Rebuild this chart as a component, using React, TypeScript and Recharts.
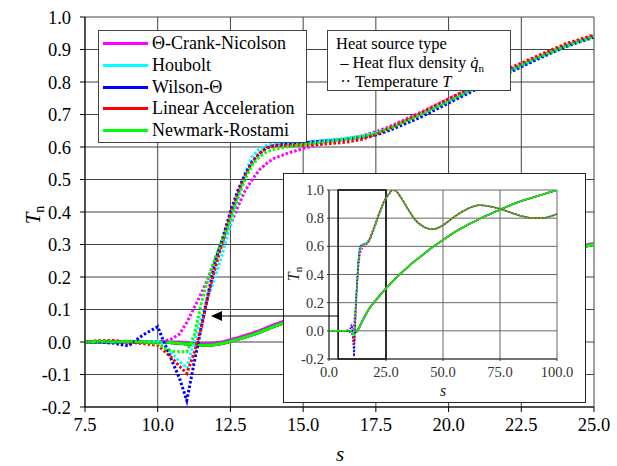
import React from 'react';
import { LineChart, Line, XAxis, YAxis, CartesianGrid, ReferenceArea } from 'recharts';

const FONT = 'Liberation Serif, DejaVu Serif, serif';

// s positions used by the zoomed main chart
const S = [7.5, 8, 8.5, 9, 9.5, 10, 10.25, 10.5, 10.75, 11, 11.25, 11.5, 11.75, 12, 12.25, 12.5, 12.75, 13, 13.25, 13.5, 13.75, 14, 14.5, 15, 15.5, 16, 16.5, 17, 17.5, 18, 19, 20, 21, 22, 23, 24, 25];

// temperature driven runs (dotted)
const T_CN = [0, 0, 0, 0, 0, 0, 0.003, 0.01, 0.025, 0.06, 0.105, 0.15, 0.2, 0.26, 0.31, 0.36, 0.415, 0.465, 0.5, 0.53, 0.55, 0.565, 0.582, 0.595, 0.607, 0.616, 0.624, 0.634, 0.647, 0.664, 0.705, 0.748, 0.79, 0.833, 0.874, 0.912, 0.942];
const T_HB = [0, 0, 0, 0, 0, 0.003, -0.01, -0.035, -0.06, -0.08, 0, 0.075, 0.145, 0.205, 0.28, 0.36, 0.45, 0.52, 0.57, 0.595, 0.605, 0.61, 0.612, 0.615, 0.619, 0.623, 0.627, 0.633, 0.643, 0.66, 0.7, 0.742, 0.786, 0.83, 0.872, 0.91, 0.94];
const T_WT = [0, 0, -0.004, -0.012, 0.022, 0.047, -0.008, -0.06, -0.112, -0.18, -0.065, 0.045, 0.155, 0.255, 0.325, 0.4, 0.465, 0.515, 0.555, 0.58, 0.597, 0.605, 0.61, 0.613, 0.617, 0.62, 0.624, 0.629, 0.637, 0.652, 0.69, 0.735, 0.78, 0.825, 0.868, 0.908, 0.938];
const T_LA = [0, 0.005, 0.005, 0, -0.005, -0.01, -0.03, -0.05, -0.075, -0.097, -0.035, 0.045, 0.15, 0.235, 0.315, 0.39, 0.455, 0.51, 0.552, 0.58, 0.598, 0.603, 0.605, 0.606, 0.608, 0.611, 0.615, 0.623, 0.638, 0.66, 0.702, 0.748, 0.793, 0.838, 0.878, 0.917, 0.945];
const T_NR = [0, 0.003, 0, 0.003, 0, -0.005, -0.02, -0.028, -0.03, -0.03, 0.02, 0.12, 0.2, 0.265, 0.32, 0.375, 0.44, 0.5, 0.545, 0.57, 0.585, 0.593, 0.601, 0.607, 0.613, 0.619, 0.625, 0.632, 0.642, 0.658, 0.698, 0.74, 0.785, 0.83, 0.872, 0.91, 0.94];

// heat flux driven runs (solid)
const Q_CN = [0, 0, 0, 0, 0, 0, 0, 0, 0, -0.002, -0.004, -0.005, -0.005, -0.003, 0.001, 0.007, 0.013, 0.02, 0.027, 0.035, 0.044, 0.053, 0.069, 0.085, 0.1, 0.115, 0.13, 0.144, 0.157, 0.169, 0.189, 0.209, 0.229, 0.249, 0.268, 0.286, 0.303];
const Q = [0, 0, 0, 0, 0, 0, 0, -0.002, -0.004, -0.006, -0.008, -0.01, -0.01, -0.008, -0.004, 0.002, 0.008, 0.015, 0.022, 0.03, 0.039, 0.048, 0.064, 0.08, 0.095, 0.11, 0.125, 0.14, 0.153, 0.165, 0.185, 0.205, 0.225, 0.245, 0.265, 0.283, 0.3];

// inset only: before and after the zoomed window (all methods coincide)
const S_HEAD = [0, 2.5, 5];
const S_TAIL = [26, 27, 28, 29, 30, 32, 35, 38, 40, 43, 45, 47, 50, 55, 60, 63, 66, 70, 75, 80, 85, 90, 93, 96, 100];
const T_TAIL = [0.965, 0.988, 1.0, 0.996, 0.982, 0.935, 0.855, 0.785, 0.755, 0.728, 0.722, 0.726, 0.75, 0.81, 0.86, 0.882, 0.892, 0.885, 0.866, 0.838, 0.813, 0.8, 0.8, 0.807, 0.83];
const Q_TAIL = [0.318, 0.335, 0.352, 0.37, 0.385, 0.415, 0.46, 0.5, 0.525, 0.565, 0.59, 0.612, 0.645, 0.7, 0.745, 0.77, 0.795, 0.825, 0.86, 0.895, 0.925, 0.95, 0.965, 0.98, 1.0];

const X_TICKS = [7.5, 10, 12.5, 15, 17.5, 20, 22.5, 25];
const Y_TICKS = [-0.2, -0.1, 0, 0.1, 0.2, 0.3, 0.4, 0.5, 0.6, 0.7, 0.8, 0.9, 1.0];
const INSET_X_TICKS = [0, 25, 50, 75, 100];
const INSET_Y_TICKS = [-0.2, 0, 0.2, 0.4, 0.6, 0.8, 1.0];

const METHODS = [
  { key: 'cn', name: '\u0398-Crank-Nicolson', color: '#ff00ff', t: T_CN, q: Q_CN },
  { key: 'hb', name: 'Houbolt', color: '#00ffff', t: T_HB, q: Q },
  { key: 'wt', name: 'Wilson-\u0398', color: '#0000ff', t: T_WT, q: Q },
  { key: 'la', name: 'Linear Acceleration', color: '#ff0000', t: T_LA, q: Q },
  { key: 'nr', name: 'Newmark-Rostami', color: '#00ff00', t: T_NR, q: Q },
];

const mainData = S.map((s, i) => {
  const row: Record<string, number> = { s };
  METHODS.forEach(m => {
    row['t_' + m.key] = m.t[i];
    row['q_' + m.key] = m.q[i];
  });
  return row;
});

const insetData = [
  ...S_HEAD.map(s => {
    const row: Record<string, number> = { s };
    METHODS.forEach(m => { row['t_' + m.key] = 0; row['q_' + m.key] = 0; });
    return row;
  }),
  ...mainData,
  ...S_TAIL.map((s, i) => {
    const row: Record<string, number> = { s };
    METHODS.forEach(m => { row['t_' + m.key] = T_TAIL[i]; row['q_' + m.key] = Q_TAIL[i]; });
    return row;
  }),
];

const fmt = (v: number) => v.toFixed(1);

const MainChart = () => (
  <LineChart width={617} height={466} data={mainData} margin={{ top: 17, right: 23, bottom: 29, left: 0 }}>
    <CartesianGrid stroke="#444" strokeWidth={1} />
    <XAxis type="number" dataKey="s" domain={[7.5, 25]} ticks={X_TICKS} tickFormatter={fmt} allowDataOverflow
      height={30} stroke="#000" tickSize={5} tickMargin={6}
      tick={{ fill: '#000', fontSize: 18.5, fontFamily: FONT }} />
    <YAxis type="number" domain={[-0.2, 1]} ticks={Y_TICKS} tickFormatter={fmt} allowDataOverflow
      width={85} stroke="#000" tickSize={5} tickMargin={9}
      tick={{ fill: '#000', fontSize: 18.5, fontFamily: FONT }} />
    {METHODS.map(m => (
      <Line key={'q' + m.key} dataKey={'q_' + m.key} type="linear" stroke={m.color} strokeWidth={3}
        dot={false} activeDot={false} isAnimationActive={false} />
    ))}
    {METHODS.map(m => (
      <Line key={'t' + m.key} dataKey={'t_' + m.key} type="linear" stroke={m.color} strokeWidth={3}
        strokeDasharray="2.5 2" dot={false} activeDot={false} isAnimationActive={false} />
    ))}
  </LineChart>
);

const InsetChart = () => (
  <div style={{ position: 'absolute', left: 283, top: 173, width: 303, height: 230, background: '#fff', border: '1px solid #222', boxSizing: 'border-box' }}>
    <LineChart width={301} height={228} data={insetData} margin={{ top: 16, right: 28, bottom: 14, left: 0 }}>
      <CartesianGrid stroke="#666" strokeWidth={1} />
      <XAxis type="number" dataKey="s" domain={[0, 100]} ticks={INSET_X_TICKS} tickFormatter={fmt}
        height={29} stroke="#333" tickSize={2} tickMargin={6}
        tick={{ fill: '#333', fontSize: 14.5, fontFamily: FONT }} />
      <YAxis type="number" domain={[-0.2, 1]} ticks={INSET_Y_TICKS} tickFormatter={fmt} allowDataOverflow
        width={45} stroke="#333" tickSize={2} tickMargin={3}
        tick={{ fill: '#333', fontSize: 14.5, fontFamily: FONT }} />
      <ReferenceArea x1={4} x2={25} y1={-0.2} y2={1} fill="none" stroke="#000" strokeWidth={1.5} />
      {METHODS.map(m => (
        <Line key={'q' + m.key} dataKey={'q_' + m.key} type="monotone" stroke={m.color} strokeWidth={1.6}
          dot={false} activeDot={false} isAnimationActive={false} />
      ))}
      {METHODS.map(m => (
        <Line key={'t' + m.key} dataKey={'t_' + m.key} type="monotone" stroke={m.color} strokeWidth={1.6}
          strokeDasharray="2 1.5" dot={false} activeDot={false} isAnimationActive={false} />
      ))}
    </LineChart>
    <svg style={{ position: 'absolute', left: 0, top: 0 }} width={301} height={228}>
      <text x={15} y={100} transform="rotate(-90 15 100)" textAnchor="middle" fontFamily={FONT} fontSize={16} fontStyle="italic" fill="#222">
        T<tspan fontStyle="normal" fontSize={11} dy={3}>n</tspan>
      </text>
      <text x={159} y={222} textAnchor="middle" fontFamily={FONT} fontSize={16} fontStyle="italic" fill="#222">s</text>
    </svg>
  </div>
);

const legendBox: React.CSSProperties = {
  position: 'absolute', background: '#fff', border: '1px solid #444', boxSizing: 'border-box', fontFamily: FONT, color: '#000',
};

const MethodLegend = () => (
  <div style={{ ...legendBox, left: 98, top: 30, width: 209, height: 113, fontSize: 18 }}>
    {METHODS.map((m, i) => (
      <div key={m.key} style={{ position: 'absolute', left: 4, top: 2 + i * 21.7, height: 21.7, display: 'flex', alignItems: 'center', whiteSpace: 'nowrap' }}>
        <span style={{ display: 'inline-block', width: 45, height: 3, background: m.color, marginRight: 4 }} />
        <span>{m.name}</span>
      </div>
    ))}
  </div>
);

const SourceLegend = () => (
  <div style={{ ...legendBox, left: 327, top: 30, width: 184, height: 61, fontSize: 16.5, lineHeight: '19px', padding: '3px 0 0 8px', whiteSpace: 'nowrap' }}>
    <div>Heat source type</div>
    <div>&nbsp;&ndash; Heat flux density <i>q&#775;</i><sub style={{ fontSize: 11, lineHeight: 0 }}>n</sub></div>
    <div>&nbsp;&middot;&middot; Temperature <i>T</i></div>
  </div>
);

const Overlay = () => (
  <svg style={{ position: 'absolute', left: 0, top: 0, pointerEvents: 'none' }} width={617} height={466}>
    <text x={40} y={215} transform="rotate(-90 40 215)" textAnchor="middle" fontFamily={FONT} fontSize={21} fontStyle="italic">
      T<tspan fontStyle="normal" fontSize={14} dy={4}>n</tspan>
    </text>
    <text x={340} y={461} textAnchor="middle" fontFamily={FONT} fontSize={21} fontStyle="italic">s</text>
  </svg>
);

const Arrow = () => (
  <svg style={{ position: 'absolute', left: 0, top: 0, pointerEvents: 'none' }} width={617} height={466}>
    <line x1={221} y1={316} x2={339} y2={316} stroke="#000" strokeWidth={1} />
    <polygon points="211,316 222,311 222,321" fill="#000" />
  </svg>
);

export default function App() {
  return (
    <div style={{ position: 'absolute', left: 0, top: 0, width: 617, height: 466, background: '#fff' }}>
      <MainChart />
      <Overlay />
      <MethodLegend />
      <SourceLegend />
      <InsetChart />
      <Arrow />
    </div>
  );
}
